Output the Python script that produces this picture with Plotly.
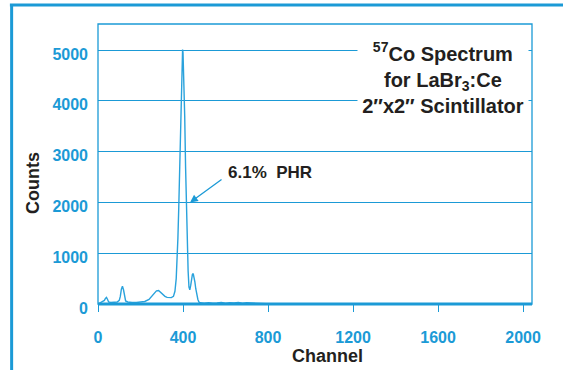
import plotly.graph_objects as go

# ---- data ----
channels = [0, 10, 20, 30, 35, 40, 45, 50, 60, 70, 80, 90, 100, 105, 110, 115, 120, 125, 130,
            140, 150, 160, 180, 200, 220, 240, 255, 265, 275, 285, 295, 305, 315, 325, 335,
            345, 355, 362, 368, 372, 376, 380, 384, 388, 392, 396, 398, 400, 404, 408, 412,
            416, 420, 424, 428, 432, 436, 440, 444, 448, 452, 456, 460, 465, 470, 475, 480,
            490, 500, 520, 540, 560, 580, 600, 620, 640, 660, 680, 700, 720, 740, 760, 780,
            800, 820, 1000, 1400, 1800, 2042]
counts = [0, 20, 40, 70, 110, 130, 90, 40, 30, 30, 35, 40, 70, 150, 290, 350, 280, 140, 60,
          40, 30, 30, 30, 35, 50, 90, 170, 230, 260, 265, 230, 180, 150, 130, 120,
          125, 150, 250, 500, 800, 1300, 1900, 2700, 3600, 4400, 4950, 5010, 4950, 4500, 3700, 2700,
          1800, 1100, 650, 330, 280, 360, 480, 580, 600, 540, 430, 300, 170, 90, 40, 25,
          20, 15, 25, 15, 20, 30, 15, 25, 20, 30, 15, 25, 20, 15, 20, 10,
          5, 0, 0, 0, 0, 0]

x_ticks = [0, 400, 800, 1200, 1600, 2000]
y_ticks = [0, 1000, 2000, 3000, 4000, 5000]

title_lines = ["<sup>57</sup>Co Spectrum", "for LaBr<sub>3</sub>:Ce", "2\u2033x2\u2033 Scintillator"]
peak_label = "6.1%\u00a0\u00a0PHR"

BLUE = "#1b9ad6"
LINE = "#2aa2dc"
DARK = "#231f20"
TICKFONT = dict(family="Liberation Sans, Arial, sans-serif", size=16, color=BLUE, weight="bold")
TEXTFONT = dict(family="Liberation Sans, Arial, sans-serif", color=DARK, weight="bold")

fig = go.Figure()
fig.add_trace(go.Scatter(x=channels, y=counts, mode="lines",
                         line=dict(color=LINE, width=1.4), hoverinfo="skip", showlegend=False))

fig.update_layout(
    width=563, height=370,
    margin=dict(l=98, r=31, t=24, b=66),
    paper_bgcolor="white", plot_bgcolor="white",
    showlegend=False,
    xaxis=dict(range=[0, 2042], tickvals=x_ticks, ticktext=[str(v) for v in x_ticks],
               showgrid=False, zeroline=False, showline=False,
               ticks="outside", ticklen=7, tickcolor=BLUE, tickwidth=1,
               tickfont=TICKFONT, ticklabelstandoff=12),
    yaxis=dict(range=[0, 5512], tickvals=y_ticks, ticktext=[str(v) for v in y_ticks],
               showgrid=True, gridcolor=BLUE, gridwidth=1.4, zeroline=False, showline=False,
               ticks="", tickfont=TICKFONT, ticklabelstandoff=9, ticklabelshift=4),
)

# plot border (thin) and thick bottom axis
fig.add_shape(type="rect", xref="paper", yref="paper", x0=0, x1=1, y0=0, y1=1,
              line=dict(color=BLUE, width=1.3), layer="above")
fig.add_shape(type="line", xref="paper", yref="paper", x0=0, x1=1, y0=0, y1=0,
              line=dict(color=BLUE, width=3), layer="above")

# outer frame (top and left)
fig.add_shape(type="line", xref="paper", yref="paper", x0=-0.203, x1=1.1, y0=1.068, y1=1.068,
              line=dict(color=BLUE, width=3))
fig.add_shape(type="line", xref="paper", yref="paper", x0=-0.199, x1=-0.199, y0=1.068, y1=-0.3,
              line=dict(color=BLUE, width=3))

# title box
fig.add_annotation(xref="paper", yref="paper", x=0.795, y=0.807,
                   text="<br>".join(title_lines), showarrow=False,
                   xanchor="center", yanchor="middle", align="center",
                   width=168, height=84, bgcolor="white",
                   font=dict(TEXTFONT, size=20))

# peak label and arrow
fig.add_annotation(xref="paper", yref="paper", x=(270 - 98) / 434, y=(304 - 172) / 280,
                   text=peak_label, showarrow=False, xanchor="center", yanchor="middle",
                   font=dict(TEXTFONT, size=17))
fig.add_annotation(x=433, y=2000, xref="x", yref="y", text="", showarrow=True,
                   ax=33, ay=-24, arrowhead=2, arrowsize=1.2, arrowwidth=1.3, arrowcolor=BLUE)

# axis titles
fig.add_annotation(xref="paper", yref="paper", x=(33 - 98) / 434, y=(304 - 183) / 280,
                   text="Counts", textangle=-90, showarrow=False,
                   xanchor="center", yanchor="middle", font=dict(TEXTFONT, size=18))
fig.add_annotation(xref="paper", yref="paper", x=(327 - 98) / 434, y=(304 - 356) / 280,
                   text="Channel", showarrow=False,
                   xanchor="center", yanchor="middle", font=dict(TEXTFONT, size=18))

fig.write_html("out.html")
